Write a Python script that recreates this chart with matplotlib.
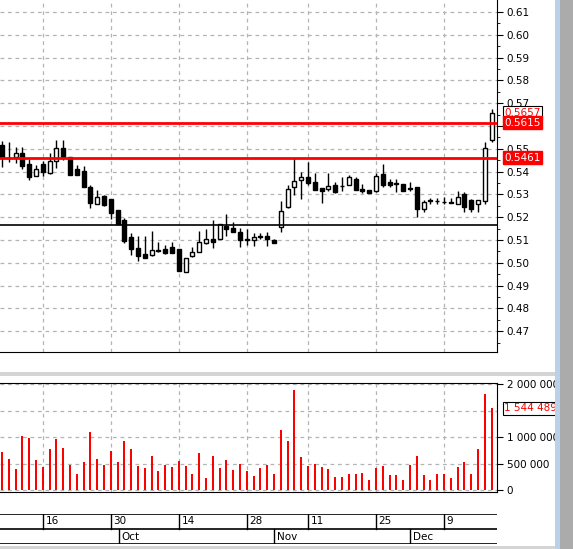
import matplotlib
matplotlib.use("Agg")
import matplotlib.pyplot as plt
import numpy as np
from matplotlib.patches import Rectangle

opens = [0.5517,0.5460,0.5463,0.5484,0.5433,0.5379,0.5433,0.5395,0.5448,0.5502,
         0.5463,0.5411,0.5404,0.5334,0.5256,0.5293,0.5280,0.5232,0.5188,0.5115,
         0.5065,0.5039,0.5036,0.5055,0.5059,0.5069,0.5061,0.4961,0.5031,0.5049,
         0.5088,0.5104,0.5106,0.5163,0.5153,0.5134,0.5103,0.5099,0.5118,0.5118,
         0.5100,0.5156,0.5246,0.5334,0.5362,0.5375,0.5355,0.5327,0.5326,0.5340,
         0.5339,0.5340,0.5366,0.5324,0.5320,0.5314,0.5390,0.5355,0.5352,0.5347,
         0.5328,0.5333,0.5235,0.5274,0.5271,0.5269,0.5269,0.5257,0.5304,0.5276,
         0.5257,0.5271,0.5539]
closes = [0.5465,0.5458,0.5480,0.5426,0.5378,0.5410,0.5400,0.5446,0.5502,0.5465,
          0.5385,0.5385,0.5334,0.5261,0.5287,0.5253,0.5220,0.5172,0.5096,0.5059,
          0.5031,0.5023,0.5055,0.5054,0.5044,0.5044,0.4965,0.5021,0.5046,0.5090,
          0.5103,0.5093,0.5169,0.5150,0.5137,0.5101,0.5101,0.5112,0.5112,0.5103,
          0.5088,0.5226,0.5322,0.5358,0.5375,0.5349,0.5320,0.5317,0.5337,0.5312,
          0.5338,0.5378,0.5320,0.5317,0.5305,0.5381,0.5343,0.5340,0.5346,0.5317,
          0.5323,0.5238,0.5267,0.5273,0.5270,0.5268,0.5263,0.5288,0.5244,0.5238,
          0.5274,0.5502,0.5658]
highs = [0.5536,0.5528,0.5509,0.5509,0.5454,0.5429,0.5446,0.5480,0.5541,0.5539,
         0.5463,0.5429,0.5425,0.5341,0.5319,0.5297,0.5280,0.5232,0.5195,0.5129,
         0.5118,0.5118,0.5139,0.5091,0.5078,0.5093,0.5061,0.5021,0.5071,0.5139,
         0.5147,0.5188,0.5169,0.5214,0.5179,0.5151,0.5147,0.5129,0.5129,0.5135,
         0.5106,0.5270,0.5341,0.5459,0.5397,0.5441,0.5393,0.5327,0.5393,0.5355,
         0.5378,0.5387,0.5375,0.5345,0.5320,0.5393,0.5432,0.5368,0.5368,0.5347,
         0.5355,0.5333,0.5274,0.5283,0.5285,0.5287,0.5283,0.5315,0.5309,0.5279,
         0.5274,0.5529,0.5673]
lows = [0.5422,0.5444,0.5439,0.5411,0.5363,0.5379,0.5382,0.5389,0.5416,0.5451,
        0.5385,0.5385,0.5334,0.5242,0.5256,0.5249,0.5191,0.5172,0.5088,0.5034,
        0.5009,0.5023,0.5031,0.5049,0.5041,0.5044,0.4965,0.4961,0.5024,0.5049,
        0.5081,0.5063,0.5106,0.5118,0.5137,0.5071,0.5078,0.5075,0.5103,0.5074,
        0.5088,0.5137,0.5239,0.5298,0.5282,0.5342,0.5320,0.5261,0.5315,0.5305,
        0.5315,0.5340,0.5320,0.5305,0.5305,0.5309,0.5334,0.5332,0.5312,0.5317,
        0.5317,0.5200,0.5225,0.5257,0.5257,0.5257,0.5263,0.5257,0.5225,0.5223,
        0.5225,0.5258,0.5528]
volumes = [0.71,0.58,0.40,1.01,0.99,0.56,0.44,0.77,0.97,0.80,0.48,0.30,0.53,1.10,0.58,
           0.48,0.73,0.52,0.92,0.77,0.45,0.41,0.64,0.35,0.47,0.43,0.54,0.45,0.31,0.69,
           0.22,0.65,0.41,0.56,0.37,0.50,0.35,0.26,0.41,0.48,0.31,1.14,0.92,1.88,0.62,
           0.45,0.50,0.43,0.39,0.24,0.24,0.30,0.31,0.33,0.18,0.41,0.45,0.28,0.28,0.18,
           0.47,0.65,0.28,0.18,0.31,0.30,0.22,0.43,0.52,0.31,0.77,1.82,1.544489]
volumes = [v * 1e6 for v in volumes]

red_levels = [0.5615, 0.5461]
black_level = 0.5166
price_ticks = [0.47,0.48,0.49,0.50,0.51,0.52,0.53,0.54,0.55,0.56,0.57,0.58,0.59,0.60,0.61]
vol_ticks = [0, 500000, 1000000, 2000000]
vol_tick_labels = ["0", "500 000", "1 000 000", "2 000 000"]
day_pos = [6, 16, 26, 36, 45, 55, 65]
day_labels = ["16", "30", "14", "28", "11", "25", "9"]
month_pos = [17.2, 40, 60]
month_labels = ["Oct", "Nov", "Dec"]

W, H = 573, 549
fig = plt.figure(figsize=(W/100, H/100), dpi=100)
fig.patch.set_facecolor("white")
FS = 7.5

def ax_px(x0, y0, x1, y1):
    return fig.add_axes([x0/W, 1 - y1/H, (x1-x0)/W, (y1-y0)/H])

n = len(opens)
x = np.arange(n)
XL = (-2/6.8, 495/6.8)
grid_kw = dict(color="#b4b4b4", linestyle=(0, (3, 3)), linewidth=0.9)

# ---------- price panel ----------
ax = ax_px(0, 0, 497, 352)
ax.set_xlim(*XL)
ax.set_ylim(0.6153, 0.4609)
ax.invert_yaxis()
for t in price_ticks:
    ax.axhline(t, **grid_kw, zorder=0)
for p in day_pos:
    ax.axvline(p, **grid_kw, zorder=0)
ax.vlines(x, lows, highs, color="black", linewidth=1, zorder=2)
bw = 0.6
for i in range(n):
    o, c = opens[i], closes[i]
    lo, hi = min(o, c), max(o, c)
    fc = "white" if c > o else "black"
    ax.add_patch(Rectangle((i - bw/2, lo), bw, max(hi - lo, 0.00005),
                           facecolor=fc, edgecolor="black", linewidth=1, zorder=3))
for lv in red_levels:
    ax.axhline(lv, color="red", linewidth=2, zorder=4)
ax.axhline(black_level, color="black", linewidth=1.2, zorder=4)
for s in ["left", "top"]:
    ax.spines[s].set_visible(False)
ax.yaxis.tick_right()
ax.set_yticks(price_ticks)
ax.set_yticklabels([f"{t:.2f}" for t in price_ticks], fontsize=FS)
ax.set_yticks(np.arange(0.465, 0.615, 0.01), minor=True)
ax.tick_params(axis="y", which="major", length=4, pad=3)
ax.tick_params(axis="y", which="minor", length=2)
ax.set_xticks([])
bbox_w = dict(boxstyle="square,pad=0.15", facecolor="white", edgecolor="black", linewidth=0.8)
bbox_r = dict(boxstyle="square,pad=0.15", facecolor="red", edgecolor="red")
ax.text(1.015, closes[-1], f"{closes[-1]-0.0001:.4f}", transform=ax.get_yaxis_transform(),
        color="red", fontsize=FS, va="center", bbox=bbox_w, zorder=5)
for lv in red_levels:
    ax.text(1.015, lv, f"{lv:.4f}", transform=ax.get_yaxis_transform(),
            color="white", fontsize=FS, va="center", bbox=bbox_r, zorder=6)

# ---------- volume panel ----------
av = ax_px(0, 383, 497, 492)
av.set_xlim(*XL)
av.set_ylim(-0.038e6, 2.02e6)
for t in [0, 500000, 1000000, 1500000, 2000000]:
    av.axhline(t, **grid_kw, zorder=0)
for p in day_pos:
    av.axvline(p, **grid_kw, zorder=0)
av.bar(x, volumes, width=0.32, color="red", zorder=3)
av.spines["left"].set_visible(False)
av.yaxis.tick_right()
av.set_yticks(vol_ticks)
av.set_yticklabels(vol_tick_labels, fontsize=FS)
av.tick_params(axis="y", length=4, pad=3)
av.set_xticks([])
av.text(1.015, volumes[-1], "1 544 489", transform=av.get_yaxis_transform(),
        color="red", fontsize=FS, va="center", bbox=bbox_w)

# ---------- date panel ----------
ad = ax_px(0, 514, 497, 544)
ad.set_xlim(*XL)
ad.set_ylim(0, 2)
ad.axis("off")
for yv in [0, 1, 2]:
    ad.axhline(yv, color="black", linewidth=1.2)
for p, lab in zip(day_pos, day_labels):
    ad.plot([p, p], [1, 2], color="black", linewidth=1)
    ad.text(p + 0.4, 1.5, lab, fontsize=FS, va="center", ha="left")
for p, lab in zip(month_pos, month_labels):
    ad.plot([p, p], [0, 1], color="black", linewidth=1)
    ad.text(p + 0.4, 0.5, lab, fontsize=FS, va="center", ha="left")

# ---------- decorations ----------
deco = fig.add_axes([0, 0, 1, 1], zorder=-1)
deco.set_xlim(0, W); deco.set_ylim(H, 0); deco.axis("off")
deco.add_patch(Rectangle((0, 372), 555, 4, facecolor="#d4d4d4", edgecolor="none"))
deco.add_patch(Rectangle((0, 546), 555, 3, facecolor="#d4d4d4", edgecolor="none"))
fig.add_artist(Rectangle((555/W, 0), 5/W, 1, transform=fig.transFigure,
                         facecolor="#b9d1ea", edgecolor="none"))
fig.add_artist(Rectangle((560/W, 0), 13/W, 1, transform=fig.transFigure,
                         facecolor="#ababab", edgecolor="none"))

fig.savefig("out.png", dpi=100)
